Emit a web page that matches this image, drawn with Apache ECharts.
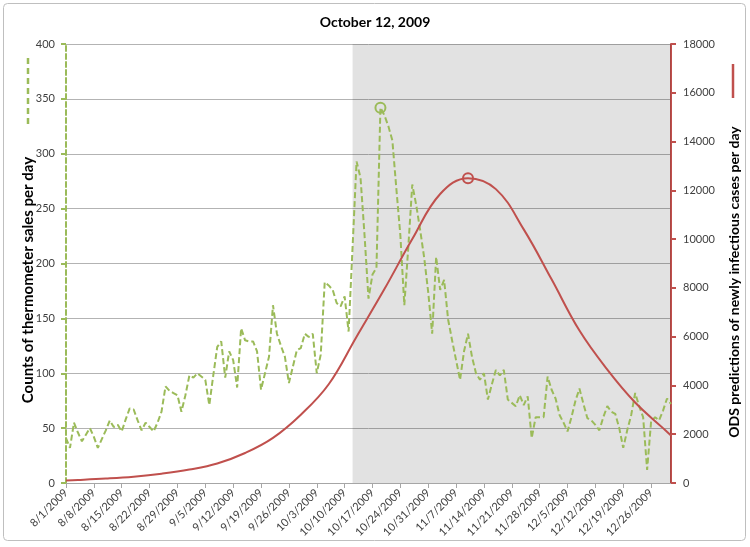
<!DOCTYPE html>
<html>
<head>
<meta charset="utf-8">
<script src="https://cdn.jsdelivr.net/npm/echarts@6/dist/echarts.min.js"></script>
<style>
html,body{margin:0;padding:0;background:#fff;}
#chart{width:750px;height:547px;}
</style>
</head>
<body>
<div id="chart"></div>
<script>
// ---- data ----
const startDate = [2009, 8, 1]; // Aug 1, 2009 = day 0
const titleText = 'October 12, 2009';
const shadeStartDay = 72; // Oct 12, 2009
const leftName = 'Counts of thermometer sales per day';
const rightName = 'ODS predictions of newly infectious cases per day';

// daily thermometer sales, 8/1/2009 .. 12/31/2009
const salesValues = [41,32,55,46,38,44,50,42,32,40,
  48,57,51,53,47,58,68,67,57,48,
  55,51,47,55,65,88,84,82,80,65,
  80,98,96,100,97,94,71,98,124,129,
  96,120,112,87,141,130,129,129,120,85,
  100,115,162,136,125,115,91,106,121,123,
  136,133,136,100,117,183,180,176,164,161,
  170,138,215,293,278,226,168,190,196,342,
  335,325,312,268,226,162,215,272,253,230,
  205,174,136,206,176,185,149,130,112,94,
  120,136,115,100,94,100,76,90,103,98,
  103,76,73,70,80,71,79,41,60,60,
  60,97,85,77,62,55,47,60,75,86,
  72,59,57,53,48,60,70,65,63,50,
  32,48,62,82,70,60,12,56,60,57,
  66,77,72];

// ODS predictions (at these day offsets)
const odsDays   = [0,3,10,17,24,31,38,45,52,59,66,73,80,87,94,101,108,115,122,129,136,143,150,152];
const odsValues = [100,120,180,260,380,550,800,1230,1850,2800,4050,6000,7950,10000,11850,12500,12050,10400,8350,6250,4650,3300,2250,1950];

const leftTicks = {min:0, max:400, interval:50};
const rightTicks = {min:0, max:18000, interval:2000};

// ---- build ----
const GREEN = '#9bbb59', RED = '#c0504d';
const FONT = 'Lato, "Open Sans", sans-serif';
function dayLabel(v){
  const d = new Date(startDate[0], startDate[1]-1, startDate[2] + v);
  return (d.getMonth()+1) + '/' + d.getDate() + '/' + d.getFullYear();
}
const lastDay = salesValues.length - 1;
const salesData = salesValues.map((v,i)=>[i,v]);
const odsData = odsDays.map((d,i)=>[d, odsValues[i]]);
function argmax(arr){ let k=0; arr.forEach((v,i)=>{ if(v>arr[k]) k=i; }); return k; }
const sPeak = argmax(salesValues);
const oPeak = argmax(odsValues);

const chart = echarts.init(document.getElementById('chart'), null, {renderer:'canvas'});
chart.setOption({
  animation:false,
  backgroundColor:'#fff',
  title:{text:titleText, left:'center', top:10,
    textStyle:{fontFamily:FONT, fontSize:14, fontWeight:'bold', color:'#000'}},
  grid:{left:66, right:79, top:44, bottom:64, containLabel:false},
  xAxis:{type:'value', min:0, max:lastDay, interval:7,
    axisLine:{show:true, lineStyle:{color:'#a6a6a6', width:1}},
    axisTick:{show:true, length:5, lineStyle:{color:'#a6a6a6'}},
    splitLine:{show:false},
    axisLabel:{rotate:45, margin:8, fontFamily:FONT, fontSize:11, color:'#404040',
      showMaxLabel:false,
      formatter:v=> (v%7===0 ? dayLabel(v) : '')}
  },
  yAxis:[
    {type:'value', position:'left', min:leftTicks.min, max:leftTicks.max, interval:leftTicks.interval,
      axisLine:{show:true, lineStyle:{color:GREEN, width:2, type:[5,3]}},
      axisTick:{show:true, length:5, lineStyle:{color:GREEN, width:2}},
      splitLine:{show:true, lineStyle:{color:'#b3b3b3', width:1}},
      axisLabel:{margin:11, fontFamily:FONT, fontSize:11, color:'#404040', formatter:v=>String(v)}},
    {type:'value', position:'right', min:rightTicks.min, max:rightTicks.max, interval:rightTicks.interval,
      axisLine:{show:true, lineStyle:{color:RED, width:2}},
      axisTick:{show:true, length:5, lineStyle:{color:RED, width:2}},
      splitLine:{show:false},
      axisLabel:{margin:12, fontFamily:FONT, fontSize:11, color:'#404040', formatter:v=>String(v)}}
  ],
  series:[
    {type:'line', name:'sales', data:salesData, yAxisIndex:0, showSymbol:false,
      lineStyle:{color:GREEN, width:2, type:[6,3]}, itemStyle:{color:GREEN}, z:3,
      markArea:{silent:true, itemStyle:{color:'rgba(0,0,0,0.115)'},
        data:[[{xAxis:shadeStartDay},{xAxis:lastDay}]]},
      markPoint:{symbol:'circle', symbolSize:10, label:{show:false},
        itemStyle:{color:'rgba(0,0,0,0)', borderColor:GREEN, borderWidth:2},
        data:[{coord:[sPeak, salesValues[sPeak]]}]}
    },
    {type:'line', name:'ods', data:odsData, yAxisIndex:1, showSymbol:false, smooth:0.4,
      lineStyle:{color:RED, width:2}, itemStyle:{color:RED}, z:4,
      markPoint:{symbol:'circle', symbolSize:10, label:{show:false},
        itemStyle:{color:'rgba(0,0,0,0)', borderColor:RED, borderWidth:2},
        data:[{coord:[odsDays[oPeak], odsValues[oPeak]]}]}
    }
  ],
  graphic:[
    {type:'rect', shape:{x:3.5, y:3.5, width:742, height:537, r:4}, silent:true,
      style:{fill:'none', stroke:'#bfbfbf', lineWidth:1}, z:-10},
    {type:'line', shape:{x1:28, y1:58, x2:28, y2:128},
      style:{stroke:GREEN, lineWidth:2.5, lineDash:[6,4]}},
    {type:'text', x:28, y:280, rotation:Math.PI/2,
      style:{text:leftName, fontFamily:FONT, fontSize:15, fontWeight:'bold', fill:'#000',
        textAlign:'center', textVerticalAlign:'middle'}},
    {type:'line', shape:{x1:733, y1:64, x2:733, y2:98},
      style:{stroke:RED, lineWidth:2.5}},
    {type:'text', x:734, y:282, rotation:Math.PI/2,
      style:{text:rightName, fontFamily:FONT, fontSize:14, fontWeight:'bold', fill:'#000',
        textAlign:'center', textVerticalAlign:'middle'}}
  ]
});
</script>
</body>
</html>
